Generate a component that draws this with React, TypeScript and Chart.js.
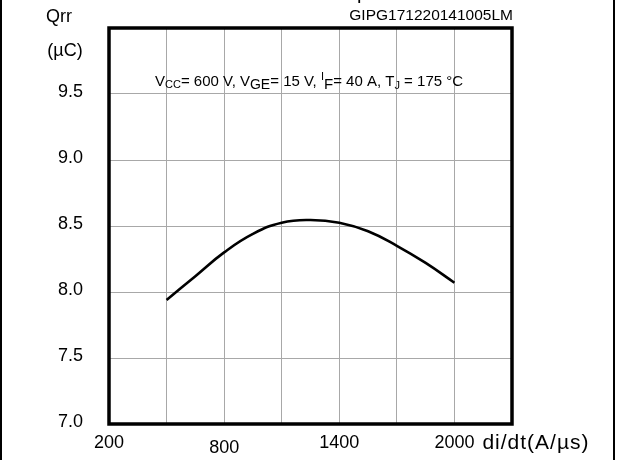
import React, { useEffect, useRef } from 'react';
import { Chart, registerables } from 'chart.js';
Chart.register(...registerables);

const diDt = [500, 650, 800, 950, 1100, 1250, 1400, 1550, 1700, 1850, 2000];
const qrr = [7.94, 8.12, 8.30, 8.44, 8.525, 8.545, 8.525, 8.46, 8.35, 8.22, 8.07];
const xTickLabels = [200, 800, 1400, 2000];
const yTickLabels = [7.0, 7.5, 8.0, 8.5, 9.0, 9.5];
const xMin = 200, xMax = 2300, xStep = 300;
const yMin = 7, yMax = 10, yStep = 0.5;

const FONT = 'Arial, "Liberation Sans", sans-serif';

const decor = {
  id: 'decor',
  afterDraw(chart: any) {
    const ctx = chart.ctx as CanvasRenderingContext2D;
    const { left, right, top, bottom } = chart.chartArea;
    const xs = chart.scales.x, ys = chart.scales.y;
    ctx.save();
    // plot frame
    ctx.strokeStyle = '#000';
    ctx.lineWidth = 3.5;
    ctx.strokeRect(left, top, right - left, bottom - top);
    // outer image frame lines
    ctx.lineWidth = 2;
    ctx.beginPath();
    ctx.moveTo(1, 0); ctx.lineTo(1, 460);
    ctx.moveTo(614, 0); ctx.lineTo(614, 460);
    ctx.stroke();
    ctx.fillStyle = '#000';
    // y tick labels
    ctx.font = `18px ${FONT}`;
    ctx.textAlign = 'right';
    ctx.textBaseline = 'middle';
    yTickLabels.forEach((v) => {
      ctx.fillText(v.toFixed(1), left - 26, ys.getPixelForValue(v) - 2);
    });
    ctx.textAlign = 'center';
    ctx.fillText('Qrr', left - 50, 17);
    ctx.fillText('(\u00b5C)', left - 44, 51);
    // x tick labels
    ctx.textBaseline = 'middle';
    xTickLabels.forEach((v) => {
      const px = xs.getPixelForValue(v);
      const dy = v === 800 ? 24 : 19;
      ctx.fillText(String(v), px, bottom + dy);
    });
    ctx.textAlign = 'left';
    ctx.font = `21px ${FONT}`;
    (ctx as any).letterSpacing = '1px';
    ctx.fillText('di/dt(A/\u00b5s)', xs.getPixelForValue(2000) + 28, bottom + 19);
    (ctx as any).letterSpacing = '0px';
    // source code label
    ctx.font = `15.5px ${FONT}`;
    ctx.textAlign = 'right';
    ctx.textBaseline = 'alphabetic';
    ctx.fillText('GIPG171220141005LM', right + 1, 20);
    // partial cut title glyph
    ctx.textAlign = 'left';
    ctx.font = `20px ${FONT}`;
    ctx.fillText('p', 357, -1);
    // conditions annotation
    const parts: { t: string; size: number; dy: number }[] = [
      { t: 'V', size: 15, dy: 0 },
      { t: 'CC', size: 11, dy: 2 },
      { t: '= 600 V, V', size: 15, dy: 0 },
      { t: 'GE', size: 14, dy: 3 },
      { t: '= 15 V, ', size: 15, dy: 0 },
      { t: 'I', size: 11, dy: -6 },
      { t: 'F', size: 15, dy: 3 },
      { t: '= 40 A, T', size: 15, dy: 0 },
      { t: 'J', size: 11, dy: 3 },
      { t: ' = 175 \u00b0C', size: 15, dy: 0 },
    ];
    let x = left + 46;
    const base = 86;
    parts.forEach((p) => {
      ctx.font = `${p.size}px ${FONT}`;
      ctx.fillText(p.t, x, base + p.dy);
      x += ctx.measureText(p.t).width;
    });
    ctx.restore();
  },
};

export default function App() {
  const ref = useRef<HTMLCanvasElement>(null);
  useEffect(() => {
    const chart = new Chart(ref.current!, {
      type: 'scatter',
      data: {
        datasets: [
          {
            data: diDt.map((x, i) => ({ x, y: qrr[i] })),
            showLine: true,
            borderColor: '#000',
            borderWidth: 2.6,
            pointRadius: 0,
            tension: 0.45,
            fill: false,
          },
        ],
      },
      options: {
        animation: false,
        responsive: false,
        devicePixelRatio: 1,
        layout: { padding: { left: 109, right: 107, top: 28, bottom: 36 } },
        plugins: { legend: { display: false }, tooltip: { enabled: false } },
        scales: {
          x: {
            type: 'linear',
            min: xMin,
            max: xMax,
            ticks: { display: false, stepSize: xStep },
            grid: { color: '#a8a8a8', lineWidth: 1, drawTicks: false },
            border: { display: false },
          },
          y: {
            type: 'linear',
            min: yMin,
            max: yMax,
            ticks: { display: false, stepSize: yStep },
            grid: { color: '#a8a8a8', lineWidth: 1, drawTicks: false },
            border: { display: false },
          },
        },
      },
      plugins: [decor],
    });
    return () => chart.destroy();
  }, []);
  return (
    <div style={{ position: 'absolute', left: 0, top: 0, width: 619, height: 460, background: '#fff' }}>
      <canvas ref={ref} width={619} height={460} />
    </div>
  );
}
